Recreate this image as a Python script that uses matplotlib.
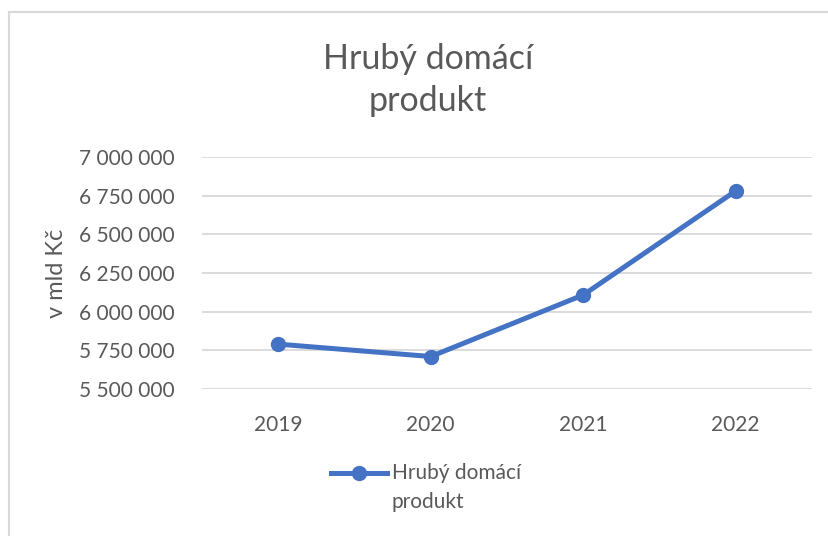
import matplotlib
matplotlib.use("Agg")
import matplotlib.pyplot as plt
from matplotlib.lines import Line2D
from matplotlib.ticker import FuncFormatter

plt.rcParams['font.family'] = ['Lato', 'DejaVu Sans']

# data
years = ['2019', '2020', '2021', '2022']
hdp = [5790000, 5710000, 6108000, 6781000]
yticks = [5500000, 5750000, 6000000, 6250000, 6500000, 6750000, 7000000]

txt = '#595959'
blue = '#4472C4'

fig = plt.figure(figsize=(8.29, 5.36), dpi=100)
ax = fig.add_axes([202/829, 1-389/536, 610/829, 232/536])

x = range(len(years))
ax.plot(x, hdp, color=blue, lw=3.6, marker='o', ms=10, zorder=3)

ax.set_xlim(-0.5, len(years)-0.5)
ax.set_ylim(yticks[0], yticks[-1])
ax.set_xticks(list(x))
ax.set_xticklabels(years)
ax.set_yticks(yticks)
ax.yaxis.set_major_formatter(FuncFormatter(lambda v, p: f'{int(v):,}'.replace(',', ' ')))
ax.grid(axis='y', color='#d9d9d9', lw=1.3)
ax.set_axisbelow(True)
for s in ax.spines.values():
    s.set_visible(False)
ax.tick_params(length=0, labelsize=15, colors=txt)
ax.tick_params(axis='x', pad=19)
ax.tick_params(axis='y', pad=20)
ax.set_ylabel('v mld Kč', fontsize=17, color=txt, labelpad=8)

fig.text(428/829, 1-80/536, 'Hrubý domácí\nprodukt', ha='center', va='center',
         fontsize=24.5, color=txt, linespacing=1.4)

# legend, drawn by hand so the marker sits on the first text line
ly = 1 - 473/536
fig.add_artist(Line2D([331/829, 387/829], [ly, ly], color=blue, lw=3.6, transform=fig.transFigure))
fig.add_artist(Line2D([359/829], [ly], color=blue, marker='o', ms=10, transform=fig.transFigure))
fig.text(392/829, ly, 'Hrubý domácí', ha='left', va='center', fontsize=15, color=txt)
fig.text(392/829, 1-502/536, 'produkt', ha='left', va='center', fontsize=15, color=txt)

# chart area border
fig.add_artist(Line2D([9/829, 9/829], [0, 1-12/536], color='#d9d9d9', lw=1.5, transform=fig.transFigure))
fig.add_artist(Line2D([9/829, 1], [1-12/536, 1-12/536], color='#d9d9d9', lw=1.5, transform=fig.transFigure))

fig.savefig('out.png', dpi=100)
